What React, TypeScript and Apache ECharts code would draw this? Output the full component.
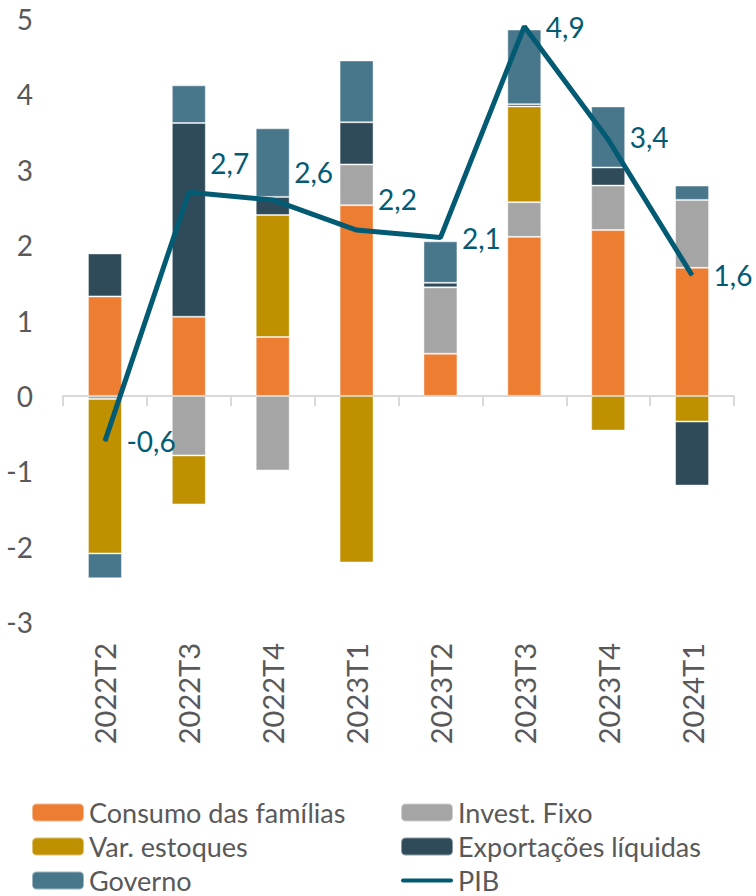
import React, { useEffect, useRef } from "react";
import * as echarts from "echarts";

const categories = ["2022T2", "2022T3", "2022T4", "2023T1", "2023T2", "2023T3", "2023T4", "2024T1"];
const consumo = [1.32, 1.05, 0.78, 2.53, 0.56, 2.11, 2.2, 1.7];
const invest = [-0.04, -0.79, -0.99, 0.54, 0.88, 0.46, 0.59, 0.9];
const varEstoques = [-2.05, -0.65, 1.62, -2.21, 0, 1.27, -0.46, -0.34];
const exportacoes = [0.57, 2.57, 0.24, 0.56, 0.06, 0.03, 0.24, -0.85];
const governo = [-0.33, 0.5, 0.91, 0.82, 0.55, 0.99, 0.81, 0.19];
const pib = [-0.6, 2.7, 2.6, 2.2, 2.1, 4.9, 3.4, 1.6];
const yTicks = [-3, -2, -1, 0, 1, 2, 3, 4, 5];

// label vertical shifts (style only)
const pibLabelShift = [0, -29, -28, -31, 0, 0, -3, 0];

const FONT = "Lato";
const AXIS_TEXT = "#595959";
const LINE_COLOR = "#035B73";

export default function App() {
  const ref = useRef<HTMLDivElement>(null);
  useEffect(() => {
    document.body.style.margin = "0";
    const chart = echarts.init(ref.current!, null, { renderer: "svg" });
    const barBase = {
      type: "bar",
      stack: "total",
      barWidth: 34,
      xAxisIndex: 0,
      emphasis: { disabled: true },
    };
    const mkBar = (name: string, data: number[], color: string) => ({
      ...barBase,
      name,
      data,
      itemStyle: { color, borderColor: "rgba(255,255,255,0.45)", borderWidth: 1 },
    });
    const legendBase = {
      orient: "vertical",
      top: 799,
      height: 300,
      width: 340,
      padding: 0,
      itemWidth: 52,
      itemHeight: 18,
      itemGap: 7,
      selectedMode: false,
      textStyle: { fontSize: 27, color: AXIS_TEXT, fontFamily: FONT },
    };
    chart.setOption({
      animation: false,
      textStyle: { fontFamily: FONT },
      grid: { left: 63, right: 22, top: 19, bottom: 274, containLabel: false },
      xAxis: [
        {
          type: "category",
          data: categories,
          position: "bottom",
          axisLine: { show: false, onZero: false },
          axisTick: { show: false },
          axisLabel: {
            rotate: 90,
            margin: 21,
            fontSize: 29,
            color: AXIS_TEXT,
            fontFamily: FONT,
          },
        },
        {
          type: "category",
          data: categories,
          position: "bottom",
          axisLine: { show: true, onZero: true, lineStyle: { color: "#D9D9D9", width: 2 } },
          axisTick: { show: true, length: 10, lineStyle: { color: "#D9D9D9", width: 2 } },
          axisLabel: { show: false },
        },
      ],
      yAxis: {
        type: "value",
        min: yTicks[0],
        max: yTicks[yTicks.length - 1],
        interval: 1,
        splitLine: { show: false },
        axisLine: { show: false },
        axisTick: { show: false },
        axisLabel: { margin: 30, fontSize: 28, color: AXIS_TEXT, fontFamily: FONT },
      },
      legend: [
        {
          ...legendBase,
          left: 31,
          data: ["Consumo das famílias", "Var. estoques", "Governo"],
        },
        {
          ...legendBase,
          left: 400,
          data: [
            "Invest. Fixo",
            "Exportações líquidas",
            { name: "PIB", icon: "path://M2,0 L50,0 A2,2 0 0 1 50,4 L2,4 A2,2 0 0 1 2,0 Z" },
          ],
        },
      ],
      series: [
        mkBar("Consumo das famílias", consumo, "#ED7D31"),
        mkBar("Invest. Fixo", invest, "#A5A5A5"),
        mkBar("Var. estoques", varEstoques, "#BF9000"),
        mkBar("Exportações líquidas", exportacoes, "#2F4B5A"),
        mkBar("Governo", governo, "#48778C"),
        {
          type: "line",
          name: "PIB",
          xAxisIndex: 0,
          data: pib.map((v, i) => ({
            value: v,
            label: { offset: [0, pibLabelShift[i]] },
          })),
          symbol: "circle",
          symbolSize: 1,
          itemStyle: { color: LINE_COLOR },
          lineStyle: { color: LINE_COLOR, width: 5 },
          z: 5,
          emphasis: { disabled: true },
          label: {
            show: true,
            position: "right",
            distance: 21,
            fontSize: 28,
            color: LINE_COLOR,
            fontFamily: FONT,
            formatter: (p: any) => String(p.value).replace(".", ","),
          },
        },
      ],
    });
    return () => chart.dispose();
  }, []);
  return <div ref={ref} style={{ width: 756, height: 896 }} />;
}
